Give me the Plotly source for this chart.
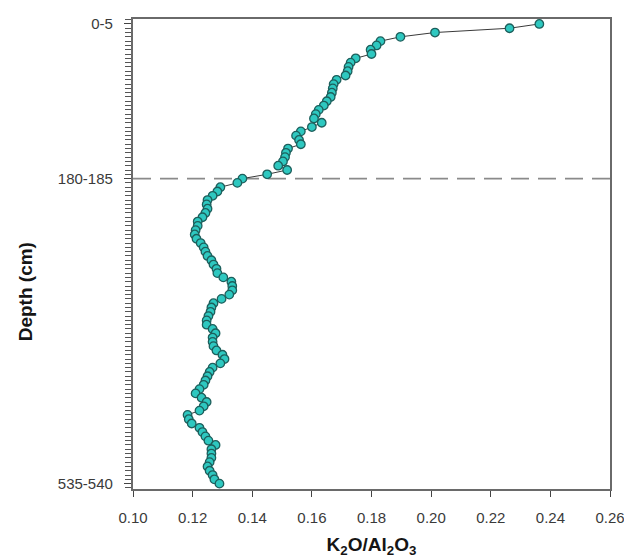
import plotly.graph_objects as go

# Depth intervals (cm), 5 cm samples from 0-5 to 535-540
depth_labels = [f"{d}-{d+5}" for d in range(0, 540, 5)]

# K2O/Al2O3 ratio, top to bottom
k2o_al2o3 = [
    0.2363, 0.2263, 0.2013, 0.1897, 0.1830, 0.1817, 0.1797, 0.1800, 0.1747, 0.1730,
    0.1723, 0.1720, 0.1713, 0.1683, 0.1673, 0.1670, 0.1667, 0.1663, 0.1650, 0.1640,
    0.1623, 0.1613, 0.1607, 0.1633, 0.1600, 0.1563, 0.1547, 0.1557, 0.1563, 0.1520,
    0.1513, 0.1510, 0.1503, 0.1487, 0.1517, 0.1450, 0.1367, 0.1350, 0.1293, 0.1283,
    0.1267, 0.1250, 0.1247, 0.1250, 0.1243, 0.1233, 0.1217, 0.1217, 0.1210, 0.1207,
    0.1213, 0.1227, 0.1237, 0.1243, 0.1250, 0.1263, 0.1270, 0.1280, 0.1283, 0.1303,
    0.1330, 0.1333, 0.1333, 0.1323, 0.1297, 0.1270, 0.1263, 0.1260, 0.1253, 0.1247,
    0.1247, 0.1267, 0.1277, 0.1267, 0.1267, 0.1270, 0.1280, 0.1300, 0.1307, 0.1293,
    0.1267, 0.1257, 0.1250, 0.1243, 0.1237, 0.1223, 0.1210, 0.1230, 0.1247, 0.1237,
    0.1223, 0.1183, 0.1187, 0.1197, 0.1223, 0.1233, 0.1243, 0.1253, 0.1277, 0.1263,
    0.1263, 0.1263, 0.1257, 0.1250, 0.1257, 0.1267, 0.1273, 0.1290,
]

labeled_depths = ["0-5", "180-185", "535-540"]
boundary_depth = "180-185"
x_ticks = [0.10, 0.12, 0.14, 0.16, 0.18, 0.20, 0.22, 0.24, 0.26]

y_idx = list(range(len(depth_labels)))
label_pos = [depth_labels.index(d) for d in labeled_depths]
boundary_pos = depth_labels.index(boundary_depth)

FONT = "Liberation Sans, Arial, sans-serif"
tick_font = dict(family=FONT, size=15, color="#3a3a3a")
title_font = dict(family=FONT, size=19, color="#151515")

fig = go.Figure()
fig.add_trace(go.Scatter(
    x=k2o_al2o3, y=y_idx, mode="lines+markers",
    text=depth_labels,
    line=dict(color="#3a3a3a", width=1),
    marker=dict(size=8.5, color="#2ec8c0", line=dict(color="#1d5f5c", width=1.3)),
    showlegend=False,
))

fig.add_shape(type="line", xref="paper", x0=0, x1=1, yref="y",
              y0=boundary_pos, y1=boundary_pos,
              line=dict(color="#8a8a8a", width=1.6, dash="18px,9px"),
              layer="below")

# page body adds an 8px margin, so the figure is 8px smaller and offset
fig.update_layout(
    width=624, height=551,
    margin=dict(l=125, r=19, t=7, b=62),
    paper_bgcolor="white", plot_bgcolor="white",
    font=tick_font,
    xaxis=dict(
        range=[0.10, 0.26], tickvals=x_ticks,
        ticktext=[f"{v:.2f}" for v in x_ticks],
        ticks="outside", ticklen=6, tickwidth=1.2, tickcolor="#444",
        ticklabelstandoff=8,
        showline=True, linecolor="#6a6a6a", linewidth=1.6, mirror=True,
        showgrid=False, zeroline=False,
        tickfont=tick_font,
        title=dict(text="<b>K<sub>2</sub>O/Al<sub>2</sub>O<sub>3</sub></b>",
                   font=title_font, standoff=13),
    ),
    yaxis=dict(
        range=[108.25, -1.15],
        tickmode="array", tickvals=label_pos,
        ticktext=[d + "\u00a0\u00a0" for d in labeled_depths],
        ticks="outside", ticklen=7, tickwidth=1, tickcolor="#444",
        minor=dict(tickmode="linear", tick0=0, dtick=1, ticks="outside",
                   ticklen=6, tickwidth=1, tickcolor="#555555"),
        showline=True, linecolor="#6a6a6a", linewidth=1.6, mirror=True,
        showgrid=False, zeroline=False,
        tickfont=tick_font,
    ),
    annotations=[dict(
        text="<b>Depth (cm)</b>", textangle=-90, xref="paper", yref="paper",
        x=-0.225, y=0.42, xanchor="center", yanchor="middle", showarrow=False,
        font=title_font,
    )],
)

fig.write_html("out.html")
